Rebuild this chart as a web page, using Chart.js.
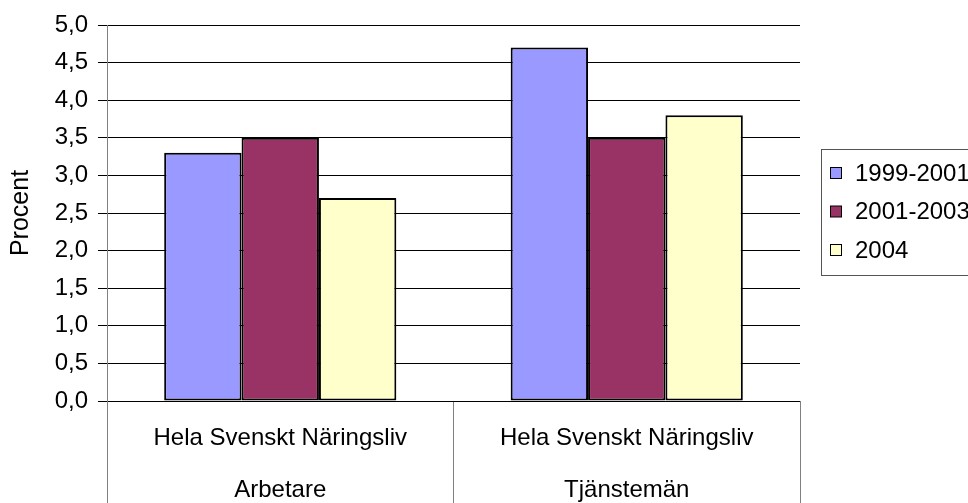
<!DOCTYPE html>
<html>
<head>
<meta charset="utf-8">
<script src="https://cdn.jsdelivr.net/npm/chart.js@4.4.0/dist/chart.umd.min.js"></script>
<style>
  html, body { margin: 0; padding: 0; background: #fff; }
  #wrap { width: 968px; height: 503px; position: relative; }
</style>
</head>
<body>
<div id="wrap"><canvas id="chart"></canvas></div>
<script>
const categories = [
    ['Hela Svenskt Näringsliv', 'Arbetare'],
    ['Hela Svenskt Näringsliv', 'Tjänstemän']
];
const seriesNames = ['1999-2001', '2001-2003', '2004'];
const seriesColors = ['#9999FF', '#993366', '#FFFFCC'];
const values1999 = [3.3, 4.7];
const values2001 = [3.5, 3.5];
const values2004 = [2.7, 3.8];
const yMin = 0, yMax = 5, yStep = 0.5;

const font = 'Liberation Sans, Arial, sans-serif';
const textSize = 24;

// legend drawn by hand so it can run off the right edge like the original
const legendBox = {
    id: 'legendBox',
    afterDraw(chart) {
        const ctx = chart.ctx;
        ctx.save();
        ctx.strokeStyle = '#555';
        ctx.lineWidth = 1;
        ctx.strokeRect(821.5, 149.5, 200, 126);
        ctx.font = textSize + 'px ' + font;
        ctx.textBaseline = 'middle';
        chart.data.datasets.forEach((ds, i) => {
            const yc = 173 + i * 38.5;
            ctx.fillStyle = ds.backgroundColor;
            ctx.fillRect(830.5, yc - 5.5, 11, 11);
            ctx.strokeStyle = '#000';
            ctx.strokeRect(830.5, yc - 5.5, 11, 11);
            ctx.fillStyle = '#000';
            ctx.fillText(ds.label, 855, yc + 1);
        });
        ctx.restore();
    }
};

const data = {
    labels: categories,
    datasets: [
        { label: seriesNames[0], data: values1999, backgroundColor: seriesColors[0] },
        { label: seriesNames[1], data: values2001, backgroundColor: seriesColors[1] },
        { label: seriesNames[2], data: values2004, backgroundColor: seriesColors[2] }
    ].map(ds => ({ ...ds, borderColor: '#000', borderWidth: 2, borderSkipped: false,
                   categoryPercentage: 0.67, barPercentage: 1 }))
};

const config = {
    type: 'bar',
    data: data,
    plugins: [legendBox],
    options: {
        responsive: true,
        maintainAspectRatio: false,
        animation: false,
        layout: { padding: { top: 25, right: 168, left: 0, bottom: 0 } },
        plugins: {
            legend: { display: false },
            tooltip: { enabled: false }
        },
        scales: {
            x: {
                afterFit: (scale) => { scale.height = 102; },
                grid: {
                    offset: true,
                    drawOnChartArea: false,
                    drawTicks: true,
                    tickLength: 102,
                    color: '#808080'
                },
                border: { display: false },
                ticks: {
                    color: '#000',
                    padding: -91,
                    maxRotation: 0,
                    font: { family: font, size: textSize, lineHeight: '52px' }
                }
            },
            y: {
                min: yMin,
                max: yMax,
                afterFit: (scale) => { scale.width = 107; },
                grid: { color: '#000', tickLength: 9 },
                border: { color: '#808080' },
                ticks: {
                    stepSize: yStep,
                    color: '#000',
                    padding: 10,
                    font: { family: font, size: textSize },
                    callback: (v) => v.toFixed(1).replace('.', ',')
                },
                title: {
                    display: true,
                    text: 'Procent',
                    color: '#000',
                    padding: { top: 6, bottom: 0 },
                    font: { family: font, size: 25 }
                }
            }
        }
    }
};

const ctx = document.getElementById('chart').getContext('2d');
new Chart(ctx, config);
</script>
</body>
</html>
